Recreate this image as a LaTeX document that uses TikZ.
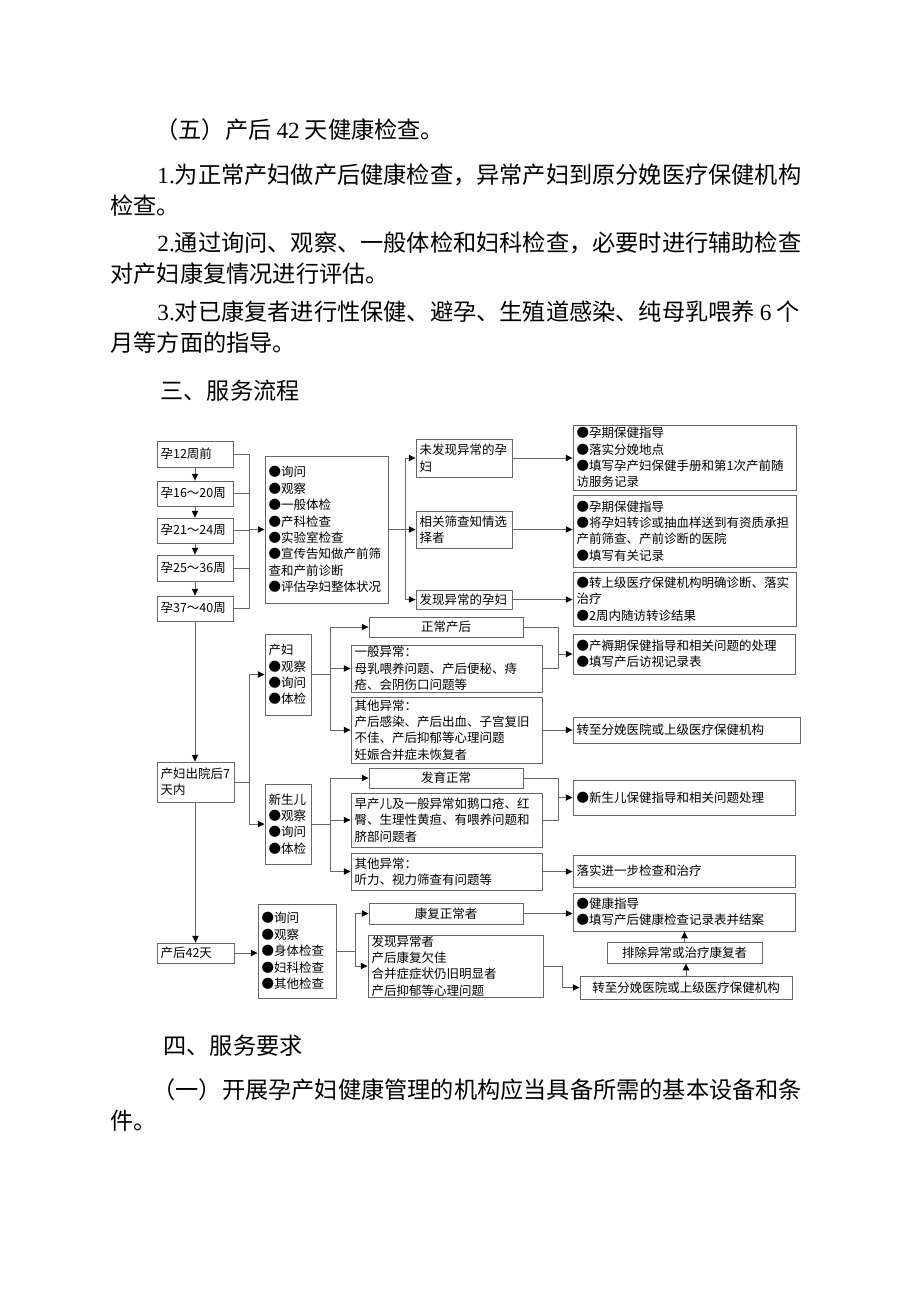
\documentclass[tikz,border=0pt]{standalone}
\usepackage{fontspec}
\setmainfont{Noto Sans CJK SC}
\newfontfamily\lat{Liberation Serif}
\usetikzlibrary{arrows.meta,calc}
\newcommand\fs{\fontsize{6.25pt}{8.2pt}\selectfont}
\newcommand\bx[7]{%
 \pgfmathsetmacro\bxcx{(#2+#4)/2}%
 \pgfmathsetmacro\bxcy{(#3+#5)/2}%
 \pgfmathsetmacro\bxw{(#4-#2)*0.5}%
 \pgfmathsetmacro\bxh{(#5-#3)*0.5}%
 \pgfmathsetmacro\bxtw{(#4-#2)*0.5-3.6}%
 \node[box,#6,minimum width=\bxw pt,minimum height=\bxh pt,text width=\bxtw pt] (#1) at (\bxcx,\bxcy) {#7};%
}
\begin{document}
\begin{tikzpicture}[x=0.5pt,y=-0.5pt,
  box/.style={draw=black!60,line width=0.45pt,rectangle,inner xsep=1.5pt,inner ysep=0pt,font=\fs,align=left,text=black},
  ctr/.style={align=center},
  ln/.style={draw=black!60,line width=0.45pt},
  arr/.style={draw=black!60,line width=0.45pt,-{Triangle[length=3.4pt,width=3.2pt,color=black]}},
  body/.style={anchor=west,inner sep=0pt,font=\fontsize{11.6pt}{14pt}\selectfont}]
\fill[white] (0,0) rectangle (920,1302);
\useasboundingbox (0,0) rectangle (920,1302);

% body text
\node[body] (t1) at (155,130) {（五）产后 {\lat 42} 天健康检查。};
\node[body] (t2) at (157,175) {{\lat 1.}为正常产妇做产后健康检查，异常产妇到原分娩医疗保健机构};
\node[body] (t3) at (110,206) {检查。};
\node[body] (t4) at (157,243) {{\lat 2.}通过询问、观察、一般体检和妇科检查，必要时进行辅助检查};
\node[body] (t5) at (110,274) {对产妇康复情况进行评估。};
\node[body] (t6) at (157,312) {{\lat 3.}对已康复者进行性保健、避孕、生殖道感染、纯母乳喂养 {\lat 6} 个};
\node[body] (t7) at (110,343) {月等方面的指导。};
\node[body] (t8) at (160,391) {三、服务流程};
\node[body] (t9) at (163,1046) {四、服务要求};
\node[body] (t10) at (152,1090) {（一）开展孕产妇健康管理的机构应当具备所需的基本设备和条};
\node[body] (t11) at (110,1121) {件。};

% spine coordinates
\coordinate (spA) at (249,0);
\coordinate (spB) at (405,0);
\coordinate (spC) at (330,0);
\coordinate (spD) at (558,0);
\coordinate (spE) at (355,0);
\coordinate (spF) at (562,0);

% antenatal
\bx{b1}{157}{441}{233}{467}{}{孕12周前}
\bx{b2}{157}{481}{233}{506}{}{孕16～20周}
\bx{b3}{157}{518}{233}{543}{}{孕21～24周}
\bx{b4}{157}{555}{233}{581}{}{孕25～36周}
\bx{b5}{157}{596}{233}{621}{}{孕37～40周}
\bx{big}{265}{456}{388}{603}{}{●询问\\●观察\\●一般体检\\●产科检查\\●实验室检查\\●宣传告知做产前筛\\查和产前诊断\\●评估孕妇整体状况}
\bx{m1}{416}{439}{512}{477}{}{未发现异常的孕\\妇}
\bx{m2}{416}{511}{512}{548}{}{相关筛查知情选\\择者}
\bx{m3}{416}{590}{512}{609}{}{发现异常的孕妇}
\bx{r1}{573}{425}{796}{490}{}{●孕期保健指导\\●落实分娩地点\\●填写孕产妇保健手册和第1次产前随\\访服务记录}
\bx{r2}{573}{495}{796}{567}{}{●孕期保健指导\\●将孕妇转诊或抽血样送到有资质承担\\产前筛查、产前诊断的医院\\●填写有关记录}
\bx{r3}{573}{572}{796}{626}{}{●转上级医疗保健机构明确诊断、落实\\治疗\\●2周内随访转诊结果}

% postpartum
\bx{c1}{157}{762}{234}{802}{}{产妇出院后7\\天内}
\bx{p1}{265}{634}{311}{715}{}{产妇\\●观察\\●询问\\●体检}
\bx{q1}{369}{617}{523}{637}{ctr}{正常产后}
\bx{q2}{351}{645}{542}{692}{}{一般异常：\\母乳喂养问题、产后便秘、痔\\疮、会阴伤口问题等}
\bx{q3}{351}{697}{542}{763}{}{其他异常：\\产后感染、产后出血、子宫复旧\\不佳、产后抑郁等心理问题\\妊娠合并症未恢复者}
\bx{r4}{573}{634}{795}{674}{}{●产褥期保健指导和相关问题的处理\\●填写产后访视记录表}
\bx{r5}{573}{717}{800}{743}{}{转至分娩医院或上级医疗保健机构}
\bx{n1}{265}{784}{311}{864}{}{新生儿\\●观察\\●询问\\●体检}
\bx{s1}{369}{768}{523}{788}{ctr}{发育正常}
\bx{s2}{351}{793}{542}{847}{}{早产儿及一般异常如鹅口疮、红\\臀、生理性黄疸、有喂养问题和\\脐部问题者}
\bx{s3}{351}{853}{542}{890}{}{其他异常：\\听力、视力筛查有问题等}
\bx{r6}{573}{780}{795}{815}{}{●新生儿保健指导和相关问题处理}
\bx{r7}{573}{855}{795}{887}{}{落实进一步检查和治疗}

% 42 days
\bx{d1}{157}{943}{234}{963}{}{产后42天}
\bx{d2}{258}{904}{336}{998}{}{●询问\\●观察\\●身体检查\\●妇科检查\\●其他检查}
\bx{e1}{369}{903}{523}{924}{ctr}{康复正常者}
\bx{e2}{368}{935}{543}{997}{}{发现异常者\\产后康复欠佳\\合并症症状仍旧明显者\\产后抑郁等心理问题}
\bx{r8}{573}{893}{795}{931}{}{●健康指导\\●填写产后健康检查记录表并结案}
\bx{ex}{607}{942}{762}{963}{ctr}{排除异常或治疗康复者}
\bx{r9}{580}{976}{792}{999}{ctr}{转至分娩医院或上级医疗保健机构}

% connectors: antenatal
\draw[arr] (b1.south) -- (b2.north);
\draw[arr] (b2.south) -- (b3.north);
\draw[arr] (b3.south) -- (b4.north);
\draw[arr] (b4.south) -- (b5.north);
\foreach \b in {b1,b2,b3,b4,b5} \draw[ln] (\b.east) -- (\b.east -| spA);
\draw[ln] (b1.east -| spA) -- (b5.east -| spA);
\draw[arr] (spA |- big.west) -- (big.west);
\draw[ln] (big.east) -- (big.east -| spB);
\draw[ln] (spB |- m1.west) -- (spB |- m3.west);
\foreach \m in {m1,m2,m3} \draw[arr] (spB |- \m.west) -- (\m.west);
\draw[arr] (m1.east) -- (m1.east -| r1.west);
\draw[arr] (m2.east) -- (m2.east -| r2.west);
\draw[arr] (m3.east) -- (m3.east -| r3.west);

% main vertical
\draw[arr] (b5.south) -- (b5.south |- c1.north);
\draw[arr] (c1.south) -- (c1.south |- d1.north);

% postpartum
\draw[ln] (c1.east) -- (c1.east -| spA);
\draw[ln] (spA |- p1.west) -- (spA |- n1.west);
\draw[arr] (spA |- p1.west) -- (p1.west);
\draw[arr] (spA |- n1.west) -- (n1.west);
\draw[ln] (p1.east) -- (p1.east -| spC);
\draw[ln] (spC |- q1.west) -- (spC |- q3.west);
\foreach \q in {q1,q2,q3} \draw[arr] (spC |- \q.west) -- (\q.west);
\draw[ln] (q1.east) -- (q1.east -| spD) -- (spD |- q2.east) -- (q2.east);
\draw[arr] (spD |- r4.west) -- (r4.west);
\draw[arr] (q3.east) -- (q3.east -| r5.west);
\draw[ln] (n1.east) -- (n1.east -| spC);
\draw[ln] (spC |- s1.west) -- (spC |- s3.west);
\foreach \s in {s1,s2,s3} \draw[arr] (spC |- \s.west) -- (\s.west);
\draw[ln] (s1.east) -- (s1.east -| spD) -- (spD |- s2.east) -- (s2.east);
\draw[arr] (spD |- r6.west) -- (r6.west);
\draw[arr] (s3.east) -- (s3.east -| r7.west);

% 42 days
\draw[arr] (d1.east) -- (d1.east -| d2.west);
\draw[ln] (d2.east) -- (d2.east -| spE);
\draw[ln] (spE |- e1.west) -- (spE |- e2.west);
\draw[arr] (spE |- e1.west) -- (e1.west);
\draw[arr] (spE |- e2.west) -- (e2.west);
\draw[arr] (e1.east) -- (e1.east -| r8.west);
\draw[arr] (e2.east) -- (e2.east -| spF) |- (r9.west);
\draw[arr] (r9.north) -- (r9.north |- ex.south);
\draw[arr] (ex.north) -- (ex.north |- r8.south);
\end{tikzpicture}
\end{document}
